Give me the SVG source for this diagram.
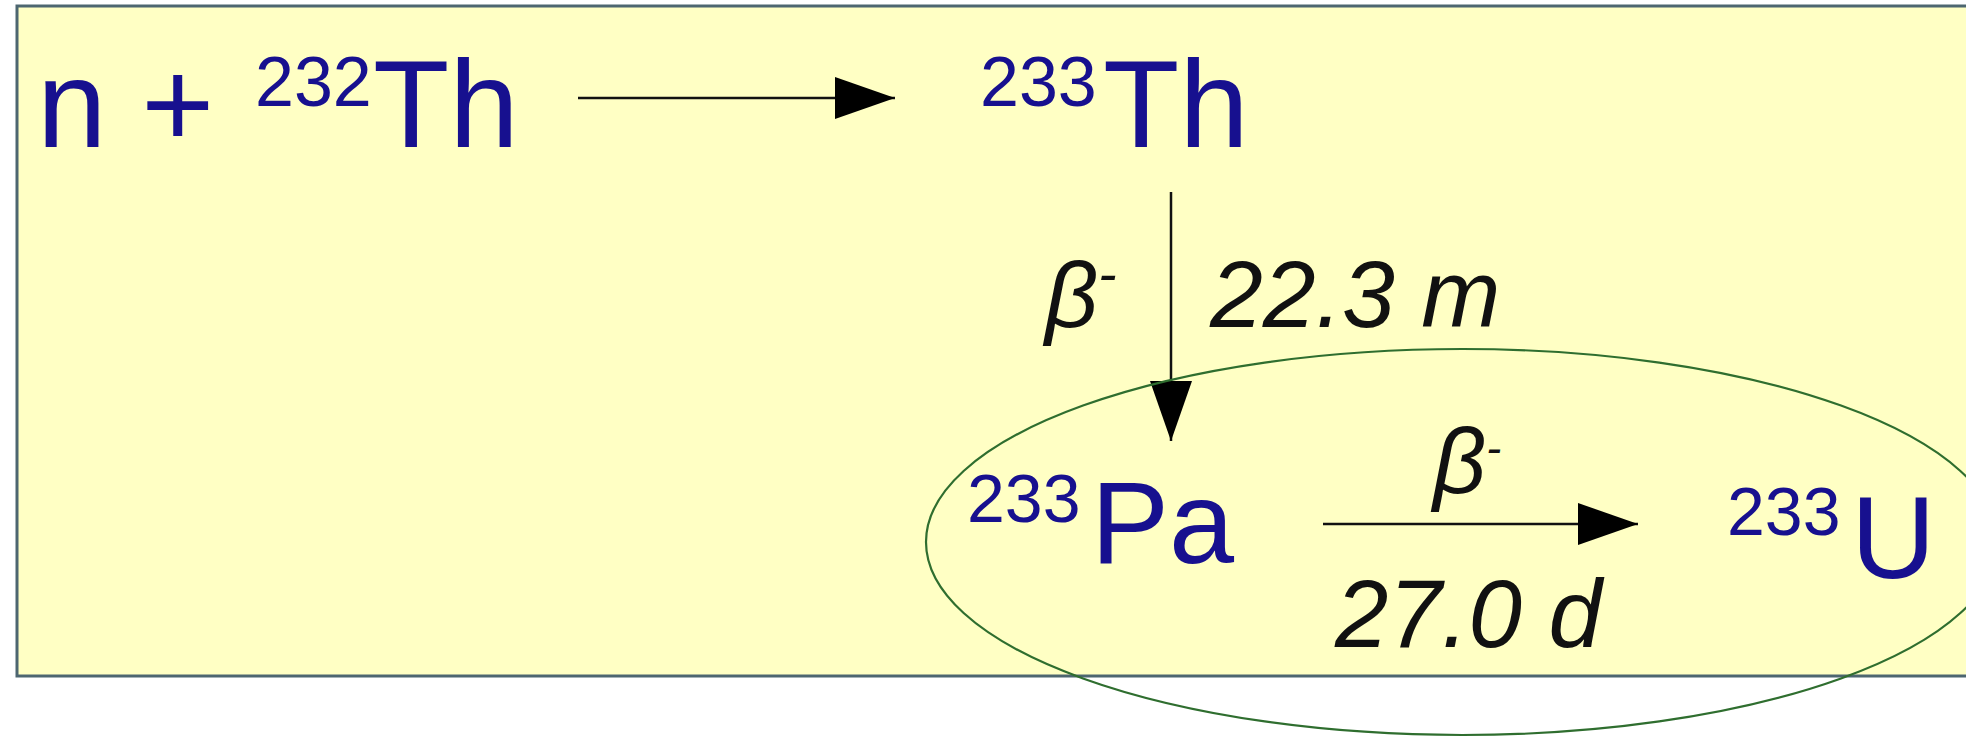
<svg xmlns="http://www.w3.org/2000/svg" width="1966" height="738" viewBox="0 0 1966 738">
<style>
.nuc{font-family:"Liberation Sans",Arial,sans-serif;fill:#17108f}
.lab{font-family:"Liberation Sans",Arial,sans-serif;font-style:italic;fill:#111}
.line{stroke:#111;stroke-width:2.5;fill:none}
</style>
<defs>
<marker id="ah" markerUnits="userSpaceOnUse" markerWidth="62" markerHeight="44" refX="60" refY="21" orient="auto">
<path d="M0,0 L60,21 L0,42 Z" fill="#000"/>
</marker>
</defs>
<rect x="0" y="0" width="1966" height="738" fill="#ffffff"/>
<rect id="frame" x="17" y="6" width="1970" height="670" fill="#ffffc4" stroke="#4d6670" stroke-width="3"/>
<g id="connectors">
<line class="line" x1="578" y1="98" x2="895" y2="98" marker-end="url(#ah)"/>
<line class="line" x1="1171" y1="192" x2="1171" y2="441" marker-end="url(#ah)"/>
<line class="line" x1="1323" y1="524" x2="1638" y2="524" marker-end="url(#ah)"/>
</g>
<g id="n-th232">
<text class="nuc" font-size="125" x="37" y="147">n +</text>
<text class="nuc" font-size="70" x="255" y="106">232</text>
<text class="nuc" font-size="125" x="373" y="147">Th</text>
</g>
<g id="th233">
<text class="nuc" font-size="70" x="980" y="106">233</text>
<text class="nuc" font-size="125" x="1103" y="147">Th</text>
</g>
<g id="label-beta1">
<text class="lab" font-size="93" x="1045" y="327">β<tspan font-size="55" dy="-34">-</tspan></text>
</g>
<g id="label-t1">
<text class="lab" font-size="95" x="1210" y="327">22.3 m</text>
</g>
<g id="pa233">
<text class="nuc" font-size="68" x="967" y="522">233</text>
<text class="nuc" font-size="117" x="1091" y="563">Pa</text>
</g>
<g id="label-beta2">
<text class="lab" font-size="93" x="1433" y="493">β<tspan font-size="45" dy="-30">-</tspan></text>
</g>
<g id="label-t2">
<text class="lab" font-size="96" x="1335" y="647">27.0 d</text>
</g>
<g id="u233">
<text class="nuc" font-size="68" x="1727" y="535">233</text>
<text class="nuc" font-size="117" x="1851" y="578">U</text>
</g>
<g id="highlight">
<ellipse cx="1462" cy="542" rx="536" ry="193" fill="none" stroke="#2f6e2f" stroke-width="2.2"/>
</g>
</svg>
